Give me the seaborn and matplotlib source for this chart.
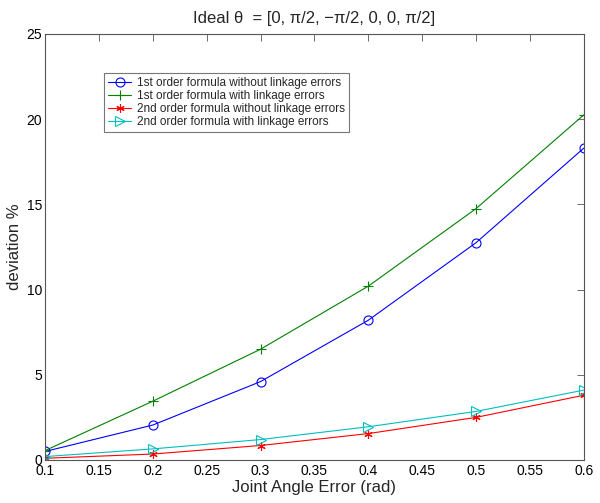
import matplotlib
matplotlib.use("Agg")
import matplotlib.pyplot as plt
import seaborn as sns
import pandas as pd

angle_error = [0.1, 0.2, 0.3, 0.4, 0.5, 0.6]
first_no_link = [0.5, 2.05, 4.6, 8.2, 12.75, 18.3]
first_link = [0.55, 3.45, 6.5, 10.2, 14.75, 20.25]
second_no_link = [0.1, 0.35, 0.85, 1.55, 2.5, 3.8]
second_link = [0.2, 0.65, 1.2, 1.95, 2.85, 4.1]

labels = ["1st order formula without linkage errors",
          "1st order formula with linkage errors",
          "2nd order formula without linkage errors",
          "2nd order formula with linkage errors"]
series = [first_no_link, first_link, second_no_link, second_link]

rows = []
for lab, vals in zip(labels, series):
    for x, v in zip(angle_error, vals):
        rows.append({"err": x, "dev": v, "series": lab})
df = pd.DataFrame(rows)

sns.set_theme(style="white")
plt.rcParams['font.family'] = ['Liberation Sans', 'DejaVu Sans']

fig = plt.figure(figsize=(6, 5.03), dpi=100)
ax = fig.add_axes([0.075, 0.0855, 0.898, 0.847])

palette = {labels[0]: "#0000ff", labels[1]: "#008000",
           labels[2]: "#ff0000", labels[3]: "#00bfbf"}
markers = {labels[0]: "o", labels[1]: "+", labels[2]: (6, 2, 0), labels[3]: ">"}
msizes = {labels[0]: 6.5, labels[1]: 7, labels[2]: 6, labels[3]: 6.5}

for lab in labels:
    sub = df[df["series"] == lab]
    sns.lineplot(data=sub, x="err", y="dev", ax=ax, color=palette[lab],
                 marker=markers[lab], markersize=msizes[lab], linewidth=0.8,
                 markerfacecolor="none", markeredgecolor=palette[lab],
                 markeredgewidth=0.8, label=lab)

ax.set_xlim(0.1, 0.6)
ax.set_ylim(0, 25)
ax.set_xticks([0.1, 0.15, 0.2, 0.25, 0.3, 0.35, 0.4, 0.45, 0.5, 0.55, 0.6])
ax.set_xticklabels(["0.1", "0.15", "0.2", "0.25", "0.3", "0.35", "0.4", "0.45", "0.5", "0.55", "0.6"])
ax.set_yticks([0, 5, 10, 15, 20, 25])
ax.tick_params(direction="in", top=True, right=True, length=5, width=0.6,
               labelsize=10, colors="#555555", labelcolor="black", pad=3)
ax.tick_params(axis="y", pad=2)
for s in ax.spines.values():
    s.set_color("#555555")
    s.set_linewidth(0.8)

ax.set_xlabel("Joint Angle Error (rad)", fontsize=12, labelpad=1)
ax.set_ylabel("deviation %", fontsize=12, labelpad=3)
ax.set_title("Ideal \u03b8  = [0, \u03c0/2, \u2212\u03c0/2, 0, 0, \u03c0/2]", fontsize=12, pad=8)

leg = ax.legend(loc="upper left", bbox_to_anchor=(0.11, 0.908), fontsize=8.5,
                frameon=True, fancybox=False, edgecolor="#555555",
                borderpad=0.3, labelspacing=0.1, handlelength=2.0,
                handletextpad=0.5, borderaxespad=0)
leg.get_frame().set_linewidth(0.8)

fig.savefig("out.png", dpi=100)
